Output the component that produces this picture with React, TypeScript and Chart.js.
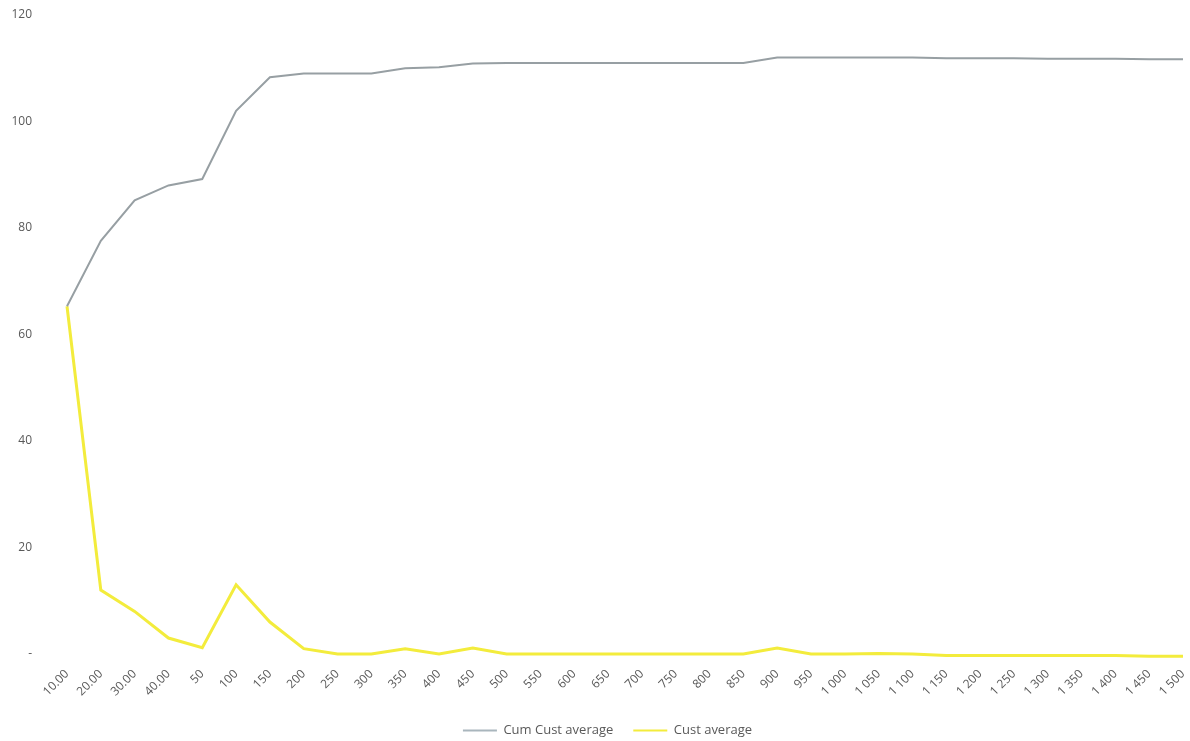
import React, { useEffect, useRef } from "react";
import { Chart, registerables } from "chart.js";

Chart.register(...registerables);

const categories = [
  "10.00", "20.00", "30.00", "40.00", "50", "100", "150", "200", "250", "300",
  "350", "400", "450", "500", "550", "600", "650", "700", "750", "800",
  "850", "900", "950", "1 000", "1 050", "1 100", "1 150", "1 200", "1 250", "1 300",
  "1 350", "1 400", "1 450", "1 500",
];

const cumCustAverage = [
  65.3, 77.6, 85.2, 88, 89.2, 102, 108.3, 109, 109, 109,
  110, 110.2, 110.9, 111, 111, 111, 111, 111, 111, 111,
  111, 112, 112, 112, 112, 112, 111.9, 111.9, 111.9, 111.8,
  111.8, 111.8, 111.7, 111.7,
];

const custAverage = [
  65.3, 12, 8, 3, 1.2, 13, 6, 1, 0, 0,
  1, 0, 1.1, 0, 0, 0, 0, 0, 0, 0,
  0, 1.1, 0, 0, 0.1, 0, -0.3, -0.3, -0.3, -0.3,
  -0.3, -0.3, -0.4, -0.4,
];

const yTicks = [0, 20, 40, 60, 80, 100, 120];

const legendShift = {
  id: "legendShift",
  afterLayout(chart: any) {
    if (chart.legend) {
      chart.legend.left += 12;
      chart.legend.right += 12;
    }
  },
};

export default function App() {
  const ref = useRef<HTMLCanvasElement | null>(null);

  useEffect(() => {
    if (!ref.current) return;
    const font = { family: "'Open Sans', 'Liberation Sans', sans-serif", size: 12 };
    const chart = new Chart(ref.current, {
      type: "line",
      data: {
        labels: categories,
        datasets: [
          {
            label: "Cum Cust average",
            data: cumCustAverage,
            borderColor: "#979fa3",
            backgroundColor: "#a9b6bd",
            borderWidth: 2,
            pointRadius: 0,
            tension: 0,
            clip: false,
          },
          {
            label: "Cust average",
            data: custAverage,
            borderColor: "#f3ec3c",
            backgroundColor: "#f3ec3c",
            borderWidth: 3,
            pointRadius: 0,
            tension: 0,
            clip: false,
          },
        ],
      },
      plugins: [legendShift],
      options: {
        animation: false,
        responsive: true,
        maintainAspectRatio: false,
        layout: { padding: { left: 8, right: 7, top: 15, bottom: -6 } },
        plugins: {
          tooltip: { enabled: false },
          legend: {
            position: "bottom",
            labels: {
              color: "#595959",
              font: { ...font, size: 13 },
              boxWidth: 34,
              boxHeight: 2,
              padding: 20,
              generateLabels: (c: any) =>
                c.data.datasets.map((d: any, i: number) => ({
                  text: d.label,
                  fillStyle: d.backgroundColor,
                  strokeStyle: d.backgroundColor,
                  lineWidth: 0,
                  fontColor: "#595959",
                  hidden: false,
                  datasetIndex: i,
                })),
            },
          },
        },
        scales: {
          x: {
            offset: false,
            grid: { display: false, drawTicks: false },
            border: { display: false },
            afterFit: (axis: any) => {
              axis.height = 50;
              axis.paddingLeft = 0;
              axis.paddingRight = 0;
            },
            ticks: {
              autoSkip: false,
              maxRotation: 45,
              minRotation: 45,
              color: "#595959",
              font,
              padding: 13,
            },
          },
          y: {
            min: 0,
            max: 120,
            grid: { display: false, drawTicks: false },
            border: { display: false },
            afterFit: (axis: any) => {
              axis.width = 59;
              axis.paddingTop = 0;
              axis.paddingBottom = 0;
            },
            afterBuildTicks: (axis: any) => {
              axis.ticks = yTicks.map((v) => ({ value: v }));
            },
            ticks: {
              color: "#595959",
              font,
              padding: 35,
              callback: (v: any) => (Number(v) === 0 ? "-" : String(v)),
            },
          },
        },
      },
    });
    return () => chart.destroy();
  }, []);

  return (
    <div style={{ position: "fixed", left: 0, top: 0, width: 1190, height: 741, background: "#fff" }}>
      <canvas ref={ref} />
    </div>
  );
}
